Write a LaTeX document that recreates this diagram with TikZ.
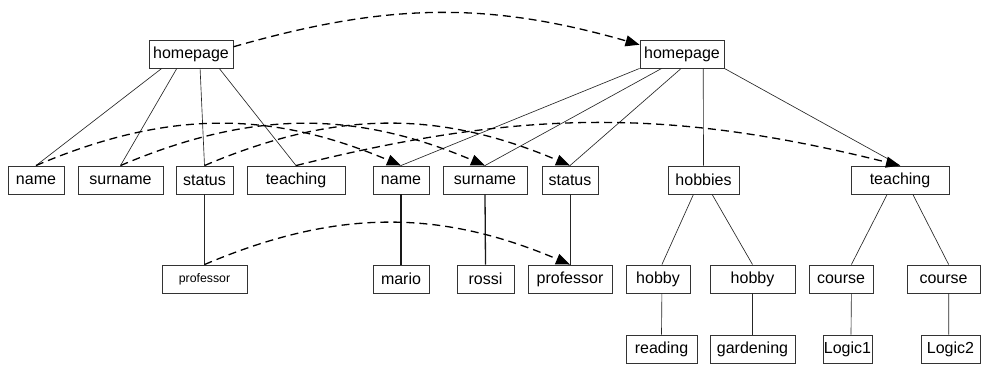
\documentclass[tikz,border=0pt]{standalone}
\usepackage{fontspec}
\setmainfont{Liberation Sans}
\usetikzlibrary{arrows.meta,calc}
\begin{document}
\begin{tikzpicture}[x=1pt,y=-1pt,
  box/.style={draw=black!80,line width=0.9pt,minimum height=28pt,inner sep=0pt,
    font=\fontsize{16}{18}\selectfont,anchor=center},
  edge/.style={draw=black!85,line width=0.65pt},
  boldedge/.style={draw=black!90,line width=1.3pt},
  link/.style={draw=black,line width=1.3pt,dash pattern=on 8pt off 5pt,
    -{Triangle[length=14pt,width=11pt]}}]
\useasboundingbox (0,0) rectangle (981,366);
% top
\node[box,minimum width=84pt] (hpL) at (191,54) {homepage};
\node[box,minimum width=84pt] (hpR) at (682,54) {homepage};
% second row
\node[box,minimum width=56pt] (name1) at (36,180) {name};
\node[box,minimum width=85pt] (surname1) at (120.5,180) {surname};
\node[box,minimum width=57pt] (status1) at (204.5,180) {status};
\node[box,minimum width=98pt] (teaching1) at (296,180) {teaching};
\node[box,minimum width=56pt] (name2) at (401,180) {name};
\node[box,minimum width=84pt] (surname2) at (485,180) {surname};
\node[box,minimum width=56pt] (status2) at (570,180) {status};
\node[box,minimum width=71pt] (hobbies) at (703.5,180) {hobbies};
\node[box,minimum width=98pt] (teaching2) at (900,180) {\raisebox{2pt}{teaching}};
% third row
\node[box,minimum width=85pt,font=\fontsize{12.3}{14}\selectfont] (prof1) at (204.5,279) {professor};
\node[box,minimum width=56pt] (mario) at (401,279) {mario};
\node[box,minimum width=57pt] (rossi) at (485.5,279) {rossi};
\node[box,minimum width=84pt] (prof2) at (570,279) {professor};
\node[box,minimum width=64pt] (hobby1) at (658,279) {hobby};
\node[box,minimum width=85pt] (hobby2) at (752.5,279) {hobby};
\node[box,minimum width=64pt] (course1) at (841,279) {course};
\node[box,minimum width=73pt] (course2) at (943.5,279) {course};
% bottom row
\node[box,minimum width=71pt] (reading) at (661.5,349) {reading};
\node[box,minimum width=85pt] (gardening) at (752.5,349) {gardening};
\node[box,minimum width=49pt] (logic1) at (847.5,349) {Logic1};
\node[box,minimum width=59pt] (logic2) at (950.5,349) {Logic2};
% tree edges left
\draw[edge] ($(hpL.south west)!0.155!(hpL.south east)$) -- (name1.north);
\draw[edge] ($(hpL.south west)!0.333!(hpL.south east)$) -- (surname1.north);
\draw[edge] ($(hpL.south west)!0.607!(hpL.south east)$) -- (status1.north);
\draw[edge] ($(hpL.south west)!0.833!(hpL.south east)$) -- (teaching1.north);
\draw[edge] (status1.south) -- (prof1.north);
% tree edges right
\draw[edge] (hpR.south west) -- (name2.north);
\draw[edge] ($(hpR.south west)!0.26!(hpR.south east)$) -- (surname2.north);
\draw[edge] ($(hpR.south west)!0.49!(hpR.south east)$) -- (status2.north);
\draw[edge] ($(hpR.south west)!0.75!(hpR.south east)$) -- (hobbies.north);
\draw[edge] (hpR.south east) -- (teaching2.north);
\draw[boldedge] (name2.south) -- (mario.north);
\draw[boldedge] (surname2.south) -- (rossi.north);
\draw[edge] (status2.south) -- (prof2.north);
\draw[edge] ($(hobbies.south west)!0.36!(hobbies.south east)$) -- ($(hobby1.north west)!0.56!(hobby1.north east)$);
\draw[edge] ($(hobbies.south west)!0.62!(hobbies.south east)$) -- ($(hobby2.north west)!0.50!(hobby2.north east)$);
\draw[edge] ($(hobby1.south west)!0.56!(hobby1.south east)$) -- ($(reading.north west)!0.5!(reading.north east)$);
\draw[edge] (hobby2.south) -- (gardening.north);
\draw[edge] ($(teaching2.south west)!0.37!(teaching2.south east)$) -- ($(course1.north west)!0.66!(course1.north east)$);
\draw[edge] ($(teaching2.south west)!0.63!(teaching2.south east)$) -- ($(course2.north west)!0.57!(course2.north east)$);
\draw[edge] ($(course1.south west)!0.66!(course1.south east)$) -- ($(logic1.north west)!0.57!(logic1.north east)$);
\draw[edge] ($(course2.south west)!0.57!(course2.south east)$) -- ($(logic2.north west)!0.47!(logic2.north east)$);
% dashed correspondence links
\draw[link] ($(hpL.north east)!0.25!(hpL.south east)$) to[out=16,in=164] ($(hpR.north west)!0.18!(hpR.south west)$);
\draw[link] (name1.north) to[bend left=23] (name2.north);
\draw[link] (surname1.north) to[bend left=23] (surname2.north);
\draw[link] (status1.north) to[bend left=23] (status2.north);
\draw[link] (teaching1.north) to[bend left=14] (teaching2.north);
\draw[link] (prof1.north) to[bend left=23] (prof2.north);
\end{tikzpicture}
\end{document}
